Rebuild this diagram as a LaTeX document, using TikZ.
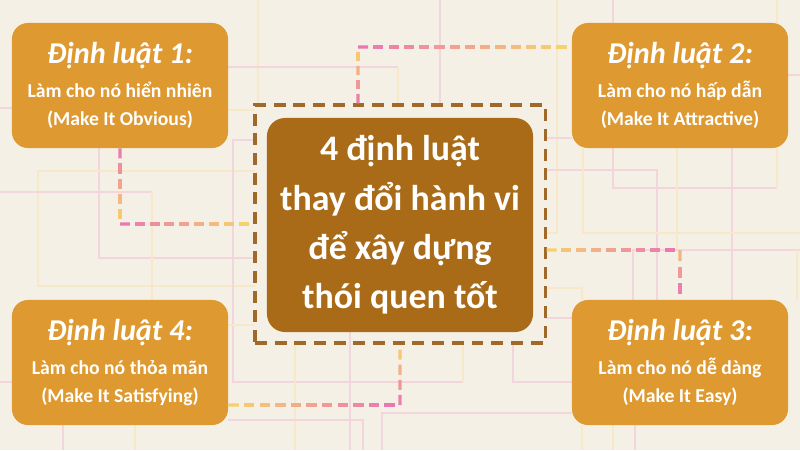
\documentclass[tikz,border=0pt]{standalone}
\usepackage{fontspec}
\setmainfont{Carlito}
\usetikzlibrary{calc}

\definecolor{paper}{HTML}{F5F0E6}
\definecolor{lawfill}{HTML}{DE9930}
\definecolor{corefill}{HTML}{A96B18}
\definecolor{framedraw}{HTML}{A0692A}
\definecolor{linkpink}{HTML}{EA72B6}
\definecolor{linkyellow}{HTML}{F8D46A}
\definecolor{gridpink}{HTML}{F3D5DD}
\definecolor{gridyellow}{HTML}{F6E8C8}

\tikzset{
	lawbox/.style={fill=lawfill, rounded corners=0.4cm, minimum width=5.4cm, minimum height=3.125cm, inner sep=0pt, text=white, align=center, font=\fontsize{14}{20}\selectfont\bfseries},
	corebox/.style={fill=corefill, rounded corners=0.45cm, minimum width=6.65cm, minimum height=5.35cm, inner sep=0pt, text=white, align=center, font=\fontsize{25.5}{35}\selectfont\bfseries},
	framebox/.style={draw=framedraw, line width=2.2pt, dash pattern=on 8.5pt off 5.5pt, minimum width=7.25cm, minimum height=5.95cm, inner sep=0pt},
	link/.style={line width=2.4pt},
	gp/.style={draw=gridpink, line width=2pt},
	gy/.style={draw=gridyellow, line width=2pt}
}

\newcommand{\fadelink}[5]{%
	\foreach \k in {1,...,#5}{%
		\pgfmathtruncatemacro{\mix}{#3+(#4-#3)*(\k-0.5)/#5}%
		\draw[link, draw=linkpink!\mix!linkyellow] ($(#1)!{(\k-1)/#5}!(#2)$) -- ($(#1)!{(\k-0.33)/#5}!(#2)$);
	}%
}

\begin{document}
\begin{tikzpicture}[x=0.025cm, y=-0.025cm]
	\useasboundingbox (0,0) rectangle (800,450);
	\fill[paper] (0,0) rectangle (800,450);

	\draw[gy] (258,0) -- (258,105);
	\draw[gp] (228,67) -- (398,67);
	\draw[gy] (398,67) -- (398,105);
	\draw[gy] (228,110) -- (255,110);
	\draw[gp] (0,108) -- (12,108);
	\draw[gp] (99,148) -- (99,258) -- (255,258);
	\draw[gy] (255,171) -- (38,171) -- (38,286) -- (255,286);
	\draw[gp] (0,192) -- (152,192);
	\draw[gy] (152,192) -- (152,300);
	\draw[gp] (255,140) -- (233,140) -- (233,382) -- (463,382);
	\draw[gy] (463,382) -- (463,343);
	\draw[gp] (350,332) -- (350,450);
	\draw[gy] (295,343) -- (295,450);
	\draw[gp] (228,420) -- (363,420) -- (363,450);
	\draw[gp] (572,413) -- (382,413) -- (382,450);
	\draw[gp] (513,343) -- (513,382) -- (572,382);
	\draw[gp] (0,382) -- (12,382);
	\draw[gp] (63,425) -- (63,450);
	\draw[gy] (135,425) -- (135,450);
	\draw[gy] (228,325) -- (255,325);
	\draw[gp] (440,0) -- (440,105);
	\draw[gy] (557,0) -- (557,233) -- (545,233);
	\draw[gp] (545,138) -- (572,138);
	\draw[gp] (545,170) -- (657,170) -- (657,300);
	\draw[gp] (613,0) -- (613,188) -- (777,188);
	\draw[gy] (777,0) -- (777,188);
	\draw[gp] (732,148) -- (732,300);
	\draw[gy] (583,148) -- (583,233) -- (800,233);
	\draw[gy] (677,148) -- (677,250);
	\draw[gp] (800,250) -- (633,250) -- (633,300);
	\draw[gy] (797,250) -- (797,300);
	\draw[gy] (545,288) -- (582,288) -- (582,300);
	\draw[gp] (545,318) -- (572,318);
	\draw[gp] (788,75) -- (800,75);
	\draw[gy] (582,425) -- (582,450);
	\draw[gy] (613,425) -- (613,450);
	\draw[gp] (635,425) -- (635,450);

	\node[framebox] (frame) at (400,224) {};
	\node[corebox] (core) at (400,225) {4 định luật\\thay đổi hành vi\\để xây dựng\\thói quen tốt};
	\node[lawbox] (law1) at (120,85.5) {{\fontsize{21.5}{26}\selectfont\itshape Định luật 1:}\\[4pt]Làm cho nó hiển nhiên\\(Make It Obvious)};
	\node[lawbox] (law2) at (680,85.5) {{\fontsize{21.5}{26}\selectfont\itshape Định luật 2:}\\[4pt]Làm cho nó hấp dẫn\\(Make It Attractive)};
	\node[lawbox] (law3) at (680,362.5) {{\fontsize{21.5}{26}\selectfont\itshape Định luật 3:}\\[4pt]Làm cho nó dễ dàng\\(Make It Easy)};
	\node[lawbox] (law4) at (120,362.5) {{\fontsize{21.5}{26}\selectfont\itshape Định luật 4:}\\[4pt]Làm cho nó thỏa mãn\\(Make It Satisfying)};

	\coordinate (k1) at (law1.south |- frame.west);
	\coordinate (k2) at (358,47);
	\coordinate (s2) at (k2 |- frame.north);
	\coordinate (e2) at (k2 -| law2.west);
	\coordinate (k3) at (law3.north |- 0,250);
	\coordinate (s3) at (k3 -| frame.east);
	\coordinate (k4) at (frame.south |- 0,405);
	\coordinate (s4) at (k4 -| law4.east);

	\fadelink{law1.south}{k1}{100}{0}{5}
	\fadelink{k1}{frame.west}{100}{0}{9}
	\fadelink{s2}{k2}{100}{0}{4}
	\fadelink{k2}{e2}{100}{0}{14}
	\fadelink{s3}{k3}{0}{100}{9}
	\fadelink{k3}{law3.north}{20}{100}{3}
	\fadelink{s4}{k4}{0}{100}{11}
	\fadelink{k4}{frame.south}{100}{0}{4}
\end{tikzpicture}
\end{document}
